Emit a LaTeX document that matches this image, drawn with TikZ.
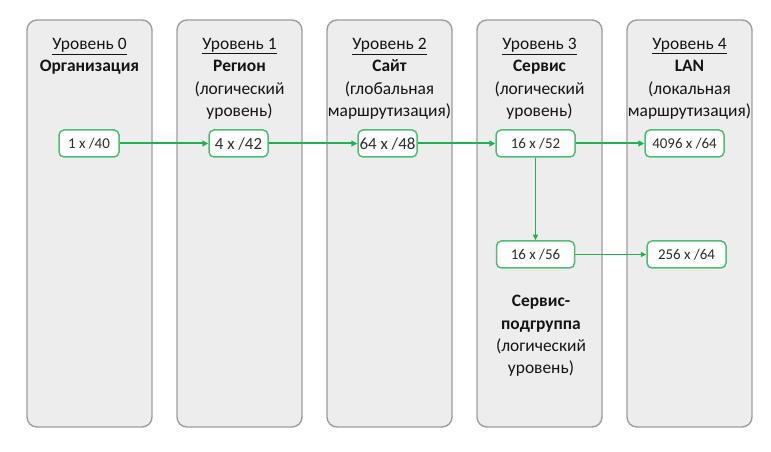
\documentclass[tikz,border=0pt]{standalone}
\usepackage{fontspec}
\setmainfont{Carlito}
\usetikzlibrary{arrows.meta}
\definecolor{colfill}{HTML}{EDEDED}
\definecolor{colline}{HTML}{9E9E9E}
\definecolor{grn}{HTML}{22B050}
\definecolor{grnbox}{HTML}{4DBF74}
\definecolor{txt}{HTML}{141414}
\definecolor{boxtxt}{HTML}{2E2E2E}
\tikzset{
  column/.style={draw=colline, fill=colfill, line width=1.4bp, rounded corners=10bp},
  head/.style={anchor=north, align=center, inner sep=0pt, text=txt, font=\fontsize{17.5}{22.5}\selectfont},
  netbox/.style={draw=grnbox, fill=white, line width=1.5bp, rounded corners=5bp, minimum height=27bp, inner sep=0pt, text=boxtxt},
  small/.style={font=\fontsize{15}{16}\selectfont},
  big/.style={font=\fontsize{17}{18}\selectfont},
  mainarrow/.style={draw=grn, line width=2bp, -{Triangle[length=6bp,width=6bp]}},
  thinarrow/.style={draw=grn, line width=1.2bp, -{Triangle[length=5.5bp,width=5bp]}},
}
\begin{document}
\begin{tikzpicture}[x=1bp,y=-1bp]
\useasboundingbox (0,0) rectangle (771,452);
\foreach \i in {0,...,4}{
  \draw[column] (27+150*\i,20) rectangle (152+150*\i,427);
}
\node[head] (h0) at (89.5,38) {\underline{Уровень 0}\\\textbf{Организация}};
\node[head] (h1) at (239.5,38) {\underline{Уровень 1}\\\textbf{Регион}\\(логический\\уровень)};
\node[head] (h2) at (389.5,38) {\underline{Уровень 2}\\\textbf{Сайт}\\(глобальная\\маршрутизация)};
\node[head] (h3) at (539.5,38) {\underline{Уровень 3}\\\textbf{Сервис}\\(логический\\уровень)};
\node[head] (h4) at (689.5,38) {\underline{Уровень 4}\\\textbf{LAN}\\(локальная\\маршрутизация)};
\node[head] (h5) at (541,295) {\textbf{Сервис-}\\\textbf{подгруппа}\\(логический\\уровень)};

\node[netbox, small, minimum width=60bp] (b0) at (89,143.5) {1 x /40};
\node[netbox, big, minimum width=59bp] (b1) at (238.5,143.5) {4 x /42};
\node[netbox, big, minimum width=59bp] (b2) at (387.5,143.5) {64 x /48};
\node[netbox, small, minimum width=79bp] (b3) at (535.5,143.5) {16 x /52};
\node[netbox, small, minimum width=79bp] (b4) at (684.5,143.5) {4096 x /64};
\node[netbox, small, minimum width=78bp] (b5) at (535.5,254.5) {16 x /56};
\node[netbox, small, minimum width=79bp] (b6) at (686.5,254.5) {256 x /64};

\draw[mainarrow] (b0) -- (b1);
\draw[mainarrow] (b1) -- (b2);
\draw[mainarrow] (b2) -- (b3);
\draw[mainarrow] (b3) -- (b4);
\draw[thinarrow] (b3) -- (b5);
\draw[thinarrow] (b5) -- (b6);
\end{tikzpicture}
\end{document}
